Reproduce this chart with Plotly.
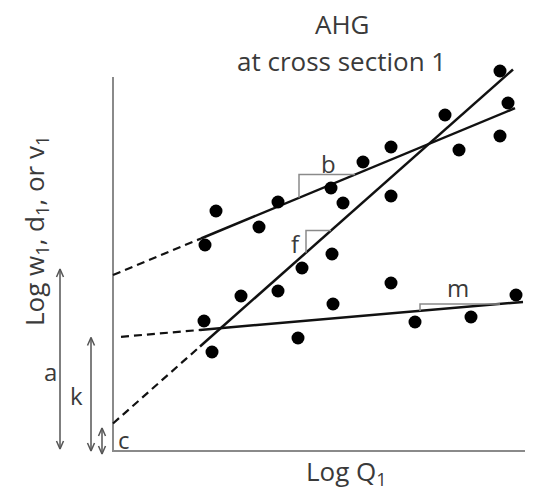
import plotly.graph_objects as go

# Observations (log Q, log value) in schematic units
obs_logQ = [38.7, 39.5, 38.7, 33.2, 34.6, 27.8, 25.0, 27.8, 21.8, 23.0, 16.5, 10.3, 14.6,
            9.2, 21.9, 18.9, 16.5, 12.8, 22.0, 9.1, 18.5, 9.9, 27.8, 40.3, 30.2, 35.8]
obs_logV = [38.0, 34.8, 31.5, 33.6, 30.1, 30.4, 28.9, 25.5, 26.3, 24.8, 24.9, 24.0, 22.4,
            20.6, 19.7, 18.3, 16.0, 15.5, 14.7, 13.0, 11.3, 9.9, 16.8, 15.6, 12.9, 13.4]

# Fitted relations: intercept, exponent, solid range, dashed start
fit_names = ["b", "f", "m"]
fit_intercepts = [17.6, 2.75, 11.35]      # a, c, k
fit_slopes = [0.415, 0.885, 0.0867]       # b, f, m
fit_x_start = [8.8, 8.7, 8.7]
fit_x_end = [40.2, 40.0, 41.0]
dash_x_start = [0.0, 0.0, 0.8]

# Slope triangles (x where triangle starts / ends on the line)
tri_x1 = [18.6, 19.3, 30.7]
tri_x2 = [24.2, 21.8, 38.7]
tri_label_pos = [(21.5, 28.8), (18.3, 20.8), (34.5, 16.4)]

# Intercept arrows: label, x, bottom, top, label position
arrow_labels = ["a", "k", "c"]
arrow_x = [-5.3, -2.2, -1.1]
arrow_bottom = [0.2, 0.0, -0.3]
arrow_top = [18.2, 11.35, 2.3]
arrow_label_pos = [(-6.3, 8.0), (-3.7, 5.6), (1.1, 1.2)]

axis_x_max = 41.4
axis_y_max = 37.4

FONT = "Open Sans"
TXT = "#3a3a3a"
GREY = "#8a8a8a"

fig = go.Figure()

# axes
fig.add_trace(go.Scatter(x=[0, 0, axis_x_max], y=[axis_y_max, 0, 0], mode="lines",
                         line=dict(color=GREY, width=2), hoverinfo="skip"))

def yval(i, x):
    return fit_intercepts[i] + fit_slopes[i] * x

for i in range(3):
    xs, xe, xd = fit_x_start[i], fit_x_end[i], dash_x_start[i]
    fig.add_trace(go.Scatter(x=[xd, xs], y=[yval(i, xd), yval(i, xs)], mode="lines",
                             line=dict(color="#111", width=2.2, dash="8px,5px"), hoverinfo="skip"))
    fig.add_trace(go.Scatter(x=[xs, xe], y=[yval(i, xs), yval(i, xe)], mode="lines",
                             line=dict(color="#111", width=2.5), hoverinfo="skip"))
    x1, x2 = tri_x1[i], tri_x2[i]
    fig.add_trace(go.Scatter(x=[x1, x1, x2], y=[yval(i, x1), yval(i, x2), yval(i, x2)], mode="lines",
                             line=dict(color=GREY, width=1.5), hoverinfo="skip"))
    lx, ly = tri_label_pos[i]
    fig.add_annotation(x=lx, y=ly, text=fit_names[i], showarrow=False,
                       font=dict(family=FONT, size=24, color=TXT))

# intercept arrows
for i in range(3):
    x, b, t = arrow_x[i], arrow_bottom[i], arrow_top[i]
    fig.add_trace(go.Scatter(x=[x, x], y=[b, t], mode="lines",
                             line=dict(color="#555", width=1.5), hoverinfo="skip"))
    hw, hl = 0.35, 0.8
    fig.add_trace(go.Scatter(x=[x - hw, x, x + hw, None, x - hw, x, x + hw],
                             y=[t - hl, t, t - hl, None, b + hl, b, b + hl], mode="lines",
                             line=dict(color="#555", width=1.5), hoverinfo="skip"))
    lx, ly = arrow_label_pos[i]
    fig.add_annotation(x=lx, y=ly, text=arrow_labels[i], showarrow=False,
                       font=dict(family=FONT, size=24, color=TXT))

# points
fig.add_trace(go.Scatter(x=obs_logQ, y=obs_logV, mode="markers",
                         marker=dict(color="black", size=13), hoverinfo="skip"))

# titles and axis labels
fig.add_annotation(x=22.9, y=42.7, text="AHG", showarrow=False,
                   font=dict(family=FONT, size=26, color=TXT))
fig.add_annotation(x=22.8, y=39.0, text="at cross section 1", showarrow=False,
                   font=dict(family=FONT, size=26, color=TXT))
fig.add_annotation(x=23.3, y=-2.1, text="Log Q<sub>1</sub>", showarrow=False,
                   font=dict(family=FONT, size=26, color=TXT))
fig.add_annotation(x=-7.8, y=22.0, text="Log w<sub>1</sub>, d<sub>1</sub>, or v<sub>1</sub>",
                   showarrow=False, textangle=-90,
                   font=dict(family=FONT, size=26, color=TXT))

# page body has an 8px margin; the figure is sized/ranged so marks land where intended
fig.update_layout(
    width=525, height=483,
    margin=dict(l=0, r=0, t=0, b=0),
    paper_bgcolor="white", plot_bgcolor="white",
    showlegend=False,
    xaxis=dict(range=[-10.5, 42.0], visible=False, fixedrange=True),
    yaxis=dict(range=[-4.0, 44.3], visible=False, fixedrange=True),
)

fig.write_html("out.html")
